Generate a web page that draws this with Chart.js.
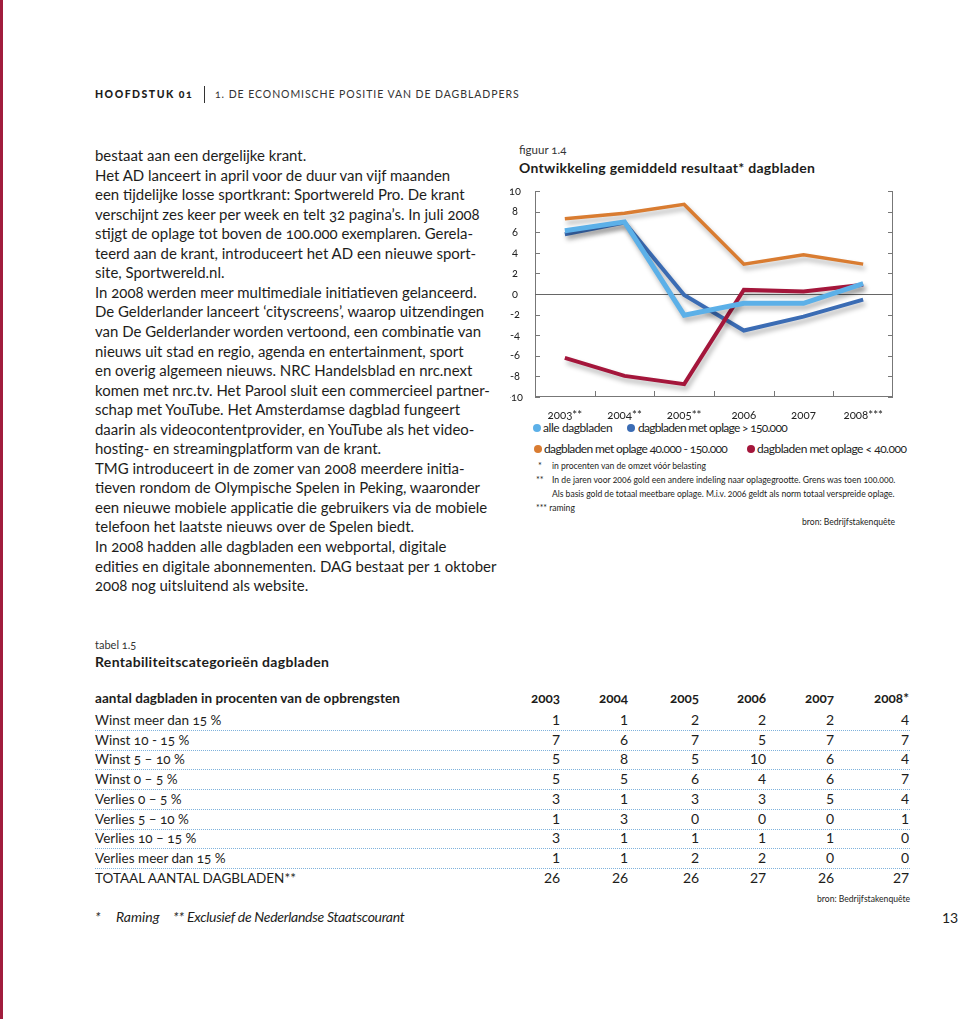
<!DOCTYPE html>
<html>
<head>
<meta charset="utf-8">
<script src="https://cdn.jsdelivr.net/npm/chart.js@4.4.1/dist/chart.umd.min.js"></script>
<style>
  html,body{margin:0;padding:0;background:#fff;}
  body{width:960px;height:1019px;position:relative;overflow:hidden;font-family:Lato,"Noto Sans",sans-serif;color:#1d1d1b;font-variant-numeric:oldstyle-nums;}
  .t{position:absolute;white-space:nowrap;}
  #redbar{position:absolute;left:0;top:0;width:3px;height:1019px;background:#a11d3d;}
  .dot{position:absolute;width:8px;height:8px;border-radius:50%;}
  .rule{position:absolute;left:95px;width:815px;height:0;border-top:1px dotted #7fb2dc;}
</style>
</head>
<body>
<div id="redbar"></div>
<div id="page"></div>
<div id="chartbox" style="position:absolute;left:510px;top:180px;width:395px;height:240px;">
  <canvas id="c"></canvas>
</div>
<script>
// ---------- chart data ----------
const categories = ['2003**','2004**','2005**','2006','2007','2008***'];
const yTickValues = [10,8,6,4,2,0,-2,-4,-6,-8,-10];
const alleDagbladen   = [6.15, 7.0, -2.05, -0.9, -0.9, 1.0];
const oplageBoven150  = [5.8, 6.95, -0.1, -3.55, -2.2, -0.55];
const oplage40tot150  = [7.3, 7.85, 8.7, 2.9, 3.8, 2.9];
const oplageOnder40   = [-6.2, -7.95, -8.75, 0.4, 0.25, 0.9];
const seriesNames = ['alle dagbladen','dagbladen met oplage > 150.000','dagbladen met oplage 40.000 - 150.000','dagbladen met oplage < 40.000'];

// ---------- table data ----------
const tableYears = ['2003','2004','2005','2006','2007','2008*'];
const tableRows = ['Winst meer dan 15 %','Winst 10 - 15 %','Winst 5 – 10 %','Winst 0 – 5 %','Verlies 0 – 5 %','Verlies 5 – 10 %','Verlies 10 – 15 %','Verlies meer dan 15 %','TOTAAL AANTAL DAGBLADEN**'];
const y2003 = [1,7,5,5,3,1,3,1,26];
const y2004 = [1,6,8,5,1,3,1,1,26];
const y2005 = [2,7,5,6,3,0,1,2,26];
const y2006 = [2,5,10,4,3,0,1,2,27];
const y2007 = [2,7,6,6,5,0,1,0,26];
const y2008 = [4,7,4,7,4,1,0,0,27];

const bodyLines = [
 'bestaat aan een dergelijke krant.',
 'Het AD lanceert in april voor de duur van vijf maanden',
 'een tijdelijke losse sportkrant: Sportwereld Pro. De krant',
 'verschijnt zes keer per week en telt 32 pagina’s. In juli 2008',
 'stijgt de oplage tot boven de 100.000 exemplaren. Gerela-',
 'teerd aan de krant, introduceert het AD een nieuwe sport-',
 'site, Sportwereld.nl.',
 'In 2008 werden meer multimediale initiatieven gelanceerd.',
 'De Gelderlander lanceert ‘cityscreens’, waarop uitzendingen',
 'van De Gelderlander worden vertoond, een combinatie van',
 'nieuws uit stad en regio, agenda en entertainment, sport',
 'en overig algemeen nieuws. NRC Handelsblad en nrc.next',
 'komen met nrc.tv. Het Parool sluit een commercieel partner-',
 'schap met YouTube. Het Amsterdamse dagblad fungeert',
 'daarin als videocontentprovider, en YouTube als het video-',
 'hosting- en streamingplatform van de krant.',
 'TMG introduceert in de zomer van 2008 meerdere initia-',
 'tieven rondom de Olympische Spelen in Peking, waaronder',
 'een nieuwe mobiele applicatie die gebruikers via de mobiele',
 'telefoon het laatste nieuws over de Spelen biedt.',
 'In 2008 hadden alle dagbladen een webportal, digitale',
 'edities en digitale abonnementen. DAG bestaat per 1 oktober',
 '2008 nog uitsluitend als website.'
];

const colors = {light:'#5cb0e8', dark:'#3b6cb4', orange:'#d97c31', red:'#a4163b'};

// ---------- page text ----------
const page = document.getElementById('page');
function txt(x, yc, str, opt){
  opt = opt || {};
  const d = document.createElement('div');
  d.className = 't';
  const lh = opt.lh || 20;
  d.style.lineHeight = lh + 'px';
  d.style.top = (yc - lh/2) + 'px';
  d.style.fontSize = (opt.size || 14) + 'px';
  if (opt.weight) d.style.fontWeight = opt.weight;
  if (opt.italic) d.style.fontStyle = 'italic';
  if (opt.color) d.style.color = opt.color;
  if (opt.ls) d.style.letterSpacing = opt.ls + 'px';
  if (opt.lining) d.style.fontVariantNumeric = 'lining-nums';
  d.textContent = str;
  page.appendChild(d);
  if (opt.width) {
    const n = str.length;
    const ls = (opt.width - d.offsetWidth) / n + (opt.ls||0);
    d.style.letterSpacing = ls + 'px';
  }
  if (opt.right !== undefined) { d.style.left = (opt.right - d.offsetWidth) + 'px'; }
  else d.style.left = x + 'px';
  return d;
}

// header
txt(95, 94, 'HOOFDSTUK 01', {size:10.5, weight:900, width:98, color:'#1d1d1b'});
const bar = document.createElement('div');
bar.style.cssText = 'position:absolute;left:204px;top:86px;width:1px;height:17px;background:#333;';
page.appendChild(bar);
txt(215, 94, '1. DE ECONOMISCHE POSITIE VAN DE DAGBLADPERS', {size:10.5, width:305, color:'#333'});

// body
(function(){
  const probe = txt(95, -100, bodyLines[8], {size:15});
  const fs = 15 * 389 / probe.offsetWidth;
  probe.remove();
  bodyLines.forEach((l,i)=> txt(95, 155 + i*19.55, l, {size:fs}));
})();

// figure heading
txt(519, 150, 'figuur 1.4', {size:11.5, color:'#333'});
txt(519, 168, 'Ontwikkeling gemiddeld resultaat* dagbladen', {size:14, weight:700, width:296, color:'#1d1d1b'});

// legend
function legendItem(dotx, y, color, label, tx, w){
  const d = document.createElement('div');
  d.className='dot'; d.style.background=color; d.style.left=(dotx-4)+'px'; d.style.top=(y-4)+'px';
  page.appendChild(d);
  txt(tx, y, label, {size:12, color:'#222', width:w});
}
legendItem(537, 428, colors.light, seriesNames[0], 543, 69);
legendItem(631, 428, colors.dark, seriesNames[1], 638, 149);
legendItem(538, 449, colors.orange, seriesNames[2], 544, 183);
legendItem(751, 449, colors.red, seriesNames[3], 757, 149);

// footnotes
txt(538, 466, '*', {size:9});
txt(552, 466, 'in procenten van de omzet vóór belasting', {size:8.6, width:154});
txt(536, 480, '**', {size:9});
txt(552, 480, 'In de jaren voor 2006 gold een andere indeling naar oplagegrootte. Grens was toen 100.000.', {size:8.6, width:343});
txt(552, 494, 'Als basis gold de totaal meetbare oplage. M.i.v. 2006 geldt als norm totaal verspreide oplage.', {size:8.6, width:343});
txt(536, 508, '*** raming', {size:8.6});
txt(0, 522, 'bron: Bedrijfstakenquête', {size:8.6, right:895});

// table
txt(95, 645, 'tabel 1.5', {size:11, color:'#333'});
txt(95, 662, 'Rentabiliteitscategorieën dagbladen', {size:14, weight:700, width:234});
txt(95, 698, 'aantal dagbladen in procenten van de opbrengsten', {size:13.5, weight:700, width:305});
const colRight = [560, 628, 699, 766, 834, 909];
tableYears.forEach((y,i)=> txt(0, 698, y, {size:13.5, weight:700, right:colRight[i]}));
const cols = [y2003,y2004,y2005,y2006,y2007,y2008];
tableRows.forEach((r,ri)=>{
  const yc = 720 + ri*19.7;
  txt(95, yc, r, {size:13.5});
  cols.forEach((c,ci)=> txt(0, yc, String(c[ri]), {size:14, right:colRight[ci], lining:true}));
  if (ri < tableRows.length-1){
    const rl = document.createElement('div'); rl.className='rule'; rl.style.top=(yc+10)+'px'; page.appendChild(rl);
  }
});
txt(0, 899, 'bron: Bedrijfstakenquête', {size:8.6, right:910});
txt(95, 917, '*', {size:14, italic:true});
txt(116, 917, 'Raming', {size:14, italic:true});
txt(173, 917, '**', {size:14, italic:true});
txt(187, 917, 'Exclusief de Nederlandse Staatscourant', {size:14, italic:true, width:217});
txt(0, 918, '13', {size:14, right:958, lining:true});

// ---------- chart ----------
const shadowPlugin = {
  id:'shadow',
  beforeDatasetDraw(chart){ const c=chart.ctx; c.save(); c.shadowColor='rgba(0,0,0,0.3)'; c.shadowBlur=5; c.shadowOffsetX=2; c.shadowOffsetY=4; },
  afterDatasetDraw(chart){ chart.ctx.restore(); }
};
const axesPlugin = {
  id:'axesLines',
  beforeDatasetsDraw(chart){
    const {ctx, chartArea:a, scales:{x,y}} = chart;
    ctx.save(); ctx.strokeStyle='#777'; ctx.lineWidth=1; ctx.beginPath();
    ctx.moveTo(a.left+0.5, a.top); ctx.lineTo(a.left+0.5, a.bottom);
    ctx.moveTo(a.right-0.5, a.top); ctx.lineTo(a.right-0.5, a.bottom);
    ctx.moveTo(a.left, a.bottom-0.5); ctx.lineTo(a.right, a.bottom-0.5);
    yTickValues.forEach(v=>{
      const py = Math.round(y.getPixelForValue(v))+0.5;
      ctx.moveTo(a.left, py); ctx.lineTo(a.left+5, py);
      ctx.moveTo(a.right, py); ctx.lineTo(a.right-5, py);
    });
    for (let i=1;i<categories.length;i++){
      const px = Math.round((x.getPixelForValue(i-1)+x.getPixelForValue(i))/2)+0.5;
      ctx.moveTo(px, a.bottom); ctx.lineTo(px, a.bottom-6);
    }
    ctx.stroke();
    ctx.beginPath(); ctx.strokeStyle='#666';
    const z = Math.round(y.getPixelForValue(0))+0.5;
    ctx.moveTo(a.left, z); ctx.lineTo(a.right, z); ctx.stroke();
    ctx.restore();
  }
};

new Chart(document.getElementById('c'), {
  type:'line',
  data:{
    labels: categories,
    datasets:[
      {label:seriesNames[0], data:alleDagbladen, borderColor:colors.light, borderWidth:5, order:1},
      {label:seriesNames[1], data:oplageBoven150, borderColor:colors.dark, borderWidth:4, order:4},
      {label:seriesNames[2], data:oplage40tot150, borderColor:colors.orange, borderWidth:3.5, order:2},
      {label:seriesNames[3], data:oplageOnder40, borderColor:colors.red, borderWidth:4, order:3}
    ]
  },
  options:{
    responsive:true, maintainAspectRatio:false, animation:false,
    layout:{padding:{top:11, right:12, bottom:0, left:0}},
    elements:{point:{radius:0}, line:{tension:0, borderJoinStyle:'miter', borderCapStyle:'butt'}},
    plugins:{legend:{display:false}, tooltip:{enabled:false}},
    scales:{
      x:{ type:'category', offset:true,
          grid:{display:false}, border:{display:false},
          ticks:{color:'#222', font:{family:'Lato', size:11.5}, padding:3, maxRotation:0, autoSkip:false},
          afterFit(s){ s.height = 23; } },
      y:{ min:-10, max:10,
          grid:{display:false}, border:{display:false},
          afterBuildTicks(s){ s.ticks = yTickValues.map(v=>({value:v})); },
          ticks:{color:'#222', font:{family:'Lato', size:11}, crossAlign:'center', padding:4},
          afterFit(s){ s.width = 25; } }
    }
  },
  plugins:[axesPlugin, shadowPlugin]
});
</script>
</body>
</html>
